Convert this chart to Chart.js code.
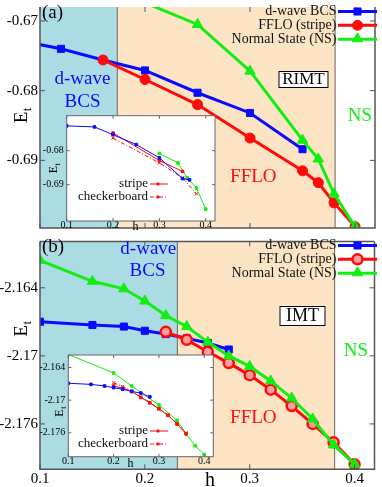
<!DOCTYPE html>
<html><head><meta charset="utf-8">
<script src="https://cdn.jsdelivr.net/npm/chart.js"></script>
<style>
html,body{margin:0;padding:0;background:#fff;}
#wrap{position:relative;width:382px;height:487px;overflow:hidden;background:#fff;}
canvas{position:absolute;display:block;}
</style></head><body>
<div id="wrap">
<canvas id="ca" width="382" height="235" style="left:0;top:0"></canvas>
<canvas id="cb" width="382" height="253" style="left:0;top:234px"></canvas>
<canvas id="ia" width="190" height="126" style="left:30px;top:110px"></canvas>
<canvas id="ib" width="190" height="125" style="left:30px;top:349px"></canvas>
</div>
<script>
// ---------------- data ----------------
const seriesNames = ['d-wave BCS', 'FFLO (stripe)', 'Normal State (NS)'];
const insetNames = ['stripe', 'checkerboard'];

const hTicks = [0.1, 0.2, 0.3, 0.4];
const hTickLabels = ['0.1', '0.2', '0.3', '0.4'];

// Panel (a) RIMT
const bcsA_h  = [0.08, 0.12, 0.16, 0.2, 0.25, 0.3, 0.35];
const bcsA_E  = [-0.6728, -0.6740, -0.6756, -0.6771, -0.6803, -0.6832, -0.6884];
const ffloA_h = [0.16, 0.2, 0.25, 0.3, 0.35, 0.365, 0.38, 0.4];
const ffloA_E = [-0.6756, -0.6784, -0.6820, -0.6868, -0.6915, -0.6932, -0.6961, -0.6995];
const nsA_h   = [0.2, 0.25, 0.3, 0.35, 0.365, 0.38, 0.4];
const nsA_E   = [-0.6674, -0.6705, -0.6772, -0.6871, -0.6898, -0.6948, -0.6995];
const yTicksA = [-0.69, -0.68, -0.67];
const yTickLabelsA = ['-0.69', '-0.68', '-0.67'];
const phaseA = [0.1736, 0.381];

// Panel (b) IMT
const bcsB_h  = [0.1, 0.15, 0.18, 0.2, 0.22, 0.24, 0.26, 0.28];
const bcsB_E  = [-2.16699, -2.16728, -2.16742, -2.16779, -2.16808, -2.16845, -2.16887, -2.16944];
const ffloB_h = [0.22, 0.24, 0.26, 0.28, 0.3, 0.32, 0.34, 0.36, 0.38, 0.4];
const ffloB_E = [-2.16788, -2.16859, -2.16964, -2.17064, -2.17170, -2.17298, -2.17443, -2.17600, -2.17762, -2.17956];
const nsB_h   = [0.1, 0.15, 0.18, 0.2, 0.22, 0.24, 0.26, 0.28, 0.3, 0.32, 0.34, 0.36, 0.38, 0.4];
const nsB_E   = [-2.16158, -2.16343, -2.16409, -2.16517, -2.16645, -2.16742, -2.16879, -2.17001, -2.17093, -2.17221, -2.17372, -2.17557, -2.17785, -2.17956];
const yTicksB = [-2.176, -2.17, -2.164];
const yTickLabelsB = ['-2.176', '-2.17', '-2.164'];
const phaseB = [0.231, 0.381];

// Inset (a)
const iA_bcs_h = [0.1, 0.16, 0.2, 0.25, 0.3, 0.35, 0.365];
const iA_bcs_E = [-0.6727, -0.6730, -0.6753, -0.6782, -0.6821, -0.6882, -0.6886];
const iA_str_h = [0.2, 0.3, 0.35];
const iA_str_E = [-0.6748, -0.6829, -0.6861];
const iA_chk_h = [0.2, 0.3, 0.35, 0.38];
const iA_chk_E = [-0.6763, -0.6836, -0.6880, -0.6927];
const iA_ns_h  = [0.3, 0.34, 0.36, 0.38, 0.4];
const iA_ns_E  = [-0.6808, -0.6836, -0.6880, -0.6910, -0.6972];
const iyTicksA = [-0.69, -0.68];
const iyTickLabelsA = ['-0.69', '-0.68'];

// Inset (b)
const iB_bcs_h = [0.1, 0.15, 0.18, 0.2, 0.22, 0.24, 0.26, 0.28];
const iB_bcs_E = [-2.1669, -2.1671, -2.1674, -2.1677, -2.1680, -2.1684, -2.1687, -2.1694];
const iB_str_h = [0.2, 0.22, 0.24, 0.26, 0.28, 0.3, 0.32, 0.34, 0.36];
const iB_str_E = [-2.1674, -2.1678, -2.1684, -2.1695, -2.1705, -2.1716, -2.1728, -2.1744, -2.1762];
const iB_chk_h = [0.2, 0.22, 0.24, 0.26, 0.28, 0.3, 0.32, 0.34, 0.36];
const iB_chk_E = [-2.1668, -2.1675, -2.1683, -2.1694, -2.1704, -2.1716, -2.1727, -2.1743, -2.1760];
const iB_ns_h  = [0.1, 0.2, 0.24, 0.3, 0.34, 0.36, 0.38, 0.4];
const iB_ns_E  = [-2.1616, -2.1650, -2.1674, -2.1709, -2.1737, -2.1762, -2.1784, -2.1800];
const iyTicksB = [-2.176, -2.17, -2.164];
const iyTickLabelsB = ['-2.176', '-2.17', '-2.164'];

// ---------------- styling ----------------
const SERIF = '"Liberation Serif","Times New Roman",Times,serif';
const BLUE = '#0a0aff', RED = '#ff0a0a', GREEN = '#11ee11';
const CYAN = '#acdce3', PEACH = '#fde4c5';
const FRAME = '#555';

function pts(h, e) { return h.map((v, i) => ({x: v, y: e[i]})); }
function lab(v, ticks, labels) {
  for (let i = 0; i < ticks.length; i++) if (Math.abs(ticks[i] - v) < 1e-9) return labels[i];
  return '';
}
function marker(ctx, style, x, y, r, fill, stroke, bw) {
  ctx.save(); ctx.beginPath();
  if (style === 'rect') { const s = r * Math.SQRT1_2; ctx.rect(x - s, y - s, 2 * s, 2 * s); }
  else if (style === 'circle') { ctx.arc(x, y, r, 0, Math.PI * 2); }
  else if (style === 'triangle') {
    let a = 0; ctx.moveTo(x + Math.sin(a) * r, y - Math.cos(a) * r);
    a += 2 * Math.PI / 3; ctx.lineTo(x + Math.sin(a) * r, y - Math.cos(a) * r);
    a += 2 * Math.PI / 3; ctx.lineTo(x + Math.sin(a) * r, y - Math.cos(a) * r);
    ctx.closePath();
  }
  ctx.fillStyle = fill; ctx.fill();
  if (bw) { ctx.lineWidth = bw; ctx.strokeStyle = stroke; ctx.stroke(); }
  ctx.restore();
}
function txt(ctx, s, x, y, size, color, align) {
  ctx.save(); ctx.font = size + 'px ' + SERIF; ctx.fillStyle = color || '#000';
  ctx.textAlign = align || 'center'; ctx.textBaseline = 'middle';
  ctx.fillText(s, x, y); ctx.restore();
}
function etTitle(ctx, bx, by, big, small) {
  ctx.save(); ctx.translate(bx, by); ctx.rotate(-Math.PI / 2);
  ctx.fillStyle = '#000'; ctx.textAlign = 'left'; ctx.textBaseline = 'alphabetic';
  ctx.font = big + 'px ' + SERIF; ctx.fillText('E', 0, 0);
  const w = ctx.measureText('E').width;
  ctx.font = small + 'px ' + SERIF; ctx.fillText('t', w + 0.5, small * 0.35);
  ctx.restore();
}

function mainDecor(cfg) {
  return {
    id: 'decor' + cfg.key,
    beforeDraw(chart) {
      const {ctx, chartArea: a} = chart; const x = chart.scales.x;
      const x1 = x.getPixelForValue(cfg.phase[0]), x2 = x.getPixelForValue(cfg.phase[1]);
      ctx.save();
      ctx.fillStyle = CYAN; ctx.fillRect(a.left, a.top, x1 - a.left, a.bottom - a.top);
      ctx.fillStyle = PEACH; ctx.fillRect(x1, a.top, x2 - x1, a.bottom - a.top);
      ctx.strokeStyle = '#666'; ctx.lineWidth = 1;
      ctx.beginPath(); ctx.moveTo(x1, a.top); ctx.lineTo(x1, a.bottom);
      ctx.moveTo(x2, a.top); ctx.lineTo(x2, a.bottom); ctx.stroke();
      ctx.restore();
    },
    afterDraw(chart) {
      const {ctx, chartArea: a} = chart; const x = chart.scales.x, y = chart.scales.y;
      ctx.save();
      ctx.strokeStyle = FRAME; ctx.lineWidth = 1.5; ctx.beginPath();
      if (cfg.top) { ctx.moveTo(a.left, a.top); ctx.lineTo(a.right, a.top); }
      ctx.moveTo(a.left, a.top); ctx.lineTo(a.left, a.bottom); ctx.lineTo(a.right, a.bottom); ctx.lineTo(a.right, a.top);
      ctx.stroke();
      ctx.lineWidth = 1; ctx.beginPath();
      for (const v of cfg.yTicks) { const py = y.getPixelForValue(v);
        ctx.moveTo(a.left, py); ctx.lineTo(a.left + 5, py); ctx.moveTo(a.right, py); ctx.lineTo(a.right - 5, py); }
      for (const v of hTicks) { const px = x.getPixelForValue(v);
        ctx.moveTo(px, a.bottom); ctx.lineTo(px, a.bottom - 5); ctx.moveTo(px, a.top); ctx.lineTo(px, a.top + 5); }
      ctx.stroke();
      ctx.restore();
      // annotations
      for (const t of cfg.texts) txt(ctx, t.s, t.x, t.y, t.size, t.color, t.align);
      // boxed label
      const b = cfg.box;
      ctx.save(); ctx.fillStyle = '#fff'; ctx.fillRect(b.x, b.y, b.w, b.h);
      ctx.strokeStyle = '#000'; ctx.lineWidth = 1; ctx.strokeRect(b.x + 0.5, b.y + 0.5, b.w - 1, b.h - 1); ctx.restore();
      txt(ctx, b.s, b.x + b.w / 2, b.y + b.h / 2 + 0.5, b.size, '#000');
      etTitle(ctx, cfg.et[0], cfg.et[1], 19, 13);
      if (cfg.hlab) txt(ctx, 'h', cfg.hlab[0], cfg.hlab[1], 20, '#000');
      // legend
      const rows = [11.5, 25.3, 39.3];
      const cols = [BLUE, RED, GREEN];
      for (let i = 0; i < 3; i++) {
        txt(ctx, seriesNames[i], 336.5, rows[i], 14, '#111', 'right');
        ctx.save(); ctx.strokeStyle = cols[i]; ctx.lineWidth = 3; ctx.beginPath();
        ctx.moveTo(338, rows[i]); ctx.lineTo(377, rows[i]); ctx.stroke(); ctx.restore();
      }
      marker(ctx, 'rect', 357.5, rows[0], 5, BLUE, BLUE, 1);
      marker(ctx, 'circle', 357.5, rows[1], 5, cfg.redFill, RED, cfg.redBw);
      marker(ctx, 'triangle', 357.5, rows[2] - 0.5, 6, GREEN, GREEN, 1);
    }
  };
}

function mainChart(id, cfg) {
  const ds = [
    {data: pts(cfg.ns[0], cfg.ns[1]), borderColor: GREEN, backgroundColor: GREEN, borderWidth: 3,
     pointStyle: 'triangle', pointRadius: 6, pointBackgroundColor: GREEN, pointBorderColor: GREEN, pointBorderWidth: 1},
    {data: pts(cfg.fflo[0], cfg.fflo[1]), borderColor: RED, backgroundColor: RED, borderWidth: 3,
     pointStyle: 'circle', pointRadius: 5, pointBackgroundColor: cfg.redFill, pointBorderColor: RED, pointBorderWidth: cfg.redBw},
    {data: pts(cfg.bcs[0], cfg.bcs[1]), borderColor: BLUE, backgroundColor: BLUE, borderWidth: 3,
     pointStyle: 'rect', pointRadius: 5, pointBackgroundColor: BLUE, pointBorderColor: BLUE, pointBorderWidth: 1}
  ];
  ds.forEach((d, i) => { d.label = seriesNames[2 - i]; d.tension = 0; d.fill = false; });
  return new Chart(document.getElementById(id), {
    type: 'line',
    data: {datasets: ds},
    options: {
      responsive: false, animation: false, events: [],
      layout: {padding: {left: 0, right: 2.5, top: 0, bottom: cfg.padBottom}},
      plugins: {legend: {display: false}, tooltip: {enabled: false}},
      scales: {
        x: {type: 'linear', min: 0.1, max: 0.419, display: cfg.showX,
            grid: {display: false, drawTicks: false}, border: {display: false},
            afterBuildTicks: s => { s.ticks = hTicks.map(v => ({value: v})); },
            ticks: {autoSkip: false, maxRotation: 0, padding: 1, color: '#000', font: {family: SERIF, size: 15},
                    callback: v => lab(v, hTicks, hTickLabels)},
            afterFit: s => { s.height = cfg.xHeight; s.paddingLeft = 0; s.paddingRight = 0; }},
        y: {type: 'linear', min: cfg.ymin, max: cfg.ymax,
            grid: {display: false, drawTicks: false}, border: {display: false},
            afterBuildTicks: s => { s.ticks = cfg.yTicks.map(v => ({value: v})); },
            ticks: {autoSkip: false, padding: 2, color: '#000', font: {family: SERIF, size: 15},
                    callback: v => lab(v, cfg.yTicks, cfg.yLabels)},
            afterFit: s => { s.width = 40; s.paddingTop = 0; s.paddingBottom = 0; }}
      }
    },
    plugins: [mainDecor(cfg)]
  });
}

function insetDecor(cfg) {
  return {
    id: 'idecor' + cfg.key,
    beforeDraw(chart) {
      const {ctx, chartArea: a} = chart;
      ctx.save(); ctx.fillStyle = '#fff'; ctx.fillRect(a.left, a.top, a.right - a.left, a.bottom - a.top); ctx.restore();
    },
    afterDraw(chart) {
      const {ctx, chartArea: a} = chart; const x = chart.scales.x, y = chart.scales.y;
      ctx.save();
      ctx.strokeStyle = '#666'; ctx.lineWidth = 1;
      ctx.strokeRect(a.left, a.top, a.right - a.left, a.bottom - a.top);
      ctx.beginPath();
      for (const v of cfg.yTicks) { const py = y.getPixelForValue(v);
        ctx.moveTo(a.left, py); ctx.lineTo(a.left + 3, py); ctx.moveTo(a.right, py); ctx.lineTo(a.right - 3, py); }
      for (const v of hTicks) { const px = x.getPixelForValue(v);
        ctx.moveTo(px, a.bottom); ctx.lineTo(px, a.bottom - 3); ctx.moveTo(px, a.top); ctx.lineTo(px, a.top + 3); }
      ctx.stroke(); ctx.restore();
      etTitle(ctx, cfg.et[0], cfg.et[1], 12, 8);
      txt(ctx, 'h', cfg.hlab[0], cfg.hlab[1], 12, '#000');
      const L = cfg.leg;
      for (let i = 0; i < 2; i++) {
        const yy = L.rows[i];
        txt(ctx, insetNames[i], L.x, yy, 13, '#111', 'right');
        ctx.save(); ctx.strokeStyle = RED; ctx.lineWidth = 1;
        if (i === 1) ctx.setLineDash([4, 2, 1, 2]);
        ctx.beginPath(); ctx.moveTo(L.x + 2, yy); ctx.lineTo(L.x + 20, yy); ctx.stroke(); ctx.restore();
        marker(ctx, 'rect', L.x + 10, yy, 2, RED, RED, 0);
      }
    }
  };
}

function insetChart(id, cfg) {
  const thin = (d, c, style, r) => Object.assign(d, {borderColor: c, backgroundColor: c, borderWidth: 1, tension: 0,
      pointStyle: style, pointRadius: r, pointBackgroundColor: c, pointBorderColor: c, pointBorderWidth: 1});
  const ds = [
    thin({label: 'd-wave BCS', data: pts(cfg.bcs[0], cfg.bcs[1])}, BLUE, 'rect', 1.8),
    thin({label: 'stripe', data: pts(cfg.str[0], cfg.str[1])}, RED, 'rect', 1.8),
    thin({label: 'checkerboard', data: pts(cfg.chk[0], cfg.chk[1]), borderDash: [4, 2, 1, 2]}, RED, 'crossRot', 2.2),
    thin({label: 'Normal State (NS)', data: pts(cfg.ns[0], cfg.ns[1])}, GREEN, 'rect', 1.8)
  ];
  return new Chart(document.getElementById(id), {
    type: 'line',
    data: {datasets: ds},
    options: {
      responsive: false, animation: false, events: [],
      layout: {padding: {left: 0, right: cfg.padRight, top: cfg.padTop, bottom: 0}},
      plugins: {legend: {display: false}, tooltip: {enabled: false}},
      scales: {
        x: {type: 'linear', min: 0.1, max: 0.42,
            grid: {display: false, drawTicks: false}, border: {display: false},
            afterBuildTicks: s => { s.ticks = hTicks.map(v => ({value: v})); },
            ticks: {autoSkip: false, maxRotation: 0, padding: cfg.xPad, color: '#000', font: {family: SERIF, size: 10, lineHeight: 1},
                    callback: v => lab(v, hTicks, hTickLabels)},
            afterFit: s => { s.height = cfg.xHeight; s.paddingLeft = 0; s.paddingRight = 0; }},
        y: {type: 'linear', min: cfg.ymin, max: cfg.ymax,
            grid: {display: false, drawTicks: false}, border: {display: false},
            afterBuildTicks: s => { s.ticks = cfg.yTicks.map(v => ({value: v})); },
            ticks: {autoSkip: false, padding: 3, color: '#000', font: {family: SERIF, size: 10},
                    callback: v => lab(v, cfg.yTicks, cfg.yLabels)},
            afterFit: s => { s.width = cfg.yWidth; s.paddingTop = 0; s.paddingBottom = 0; }}
      }
    },
    plugins: [insetDecor(cfg)]
  });
}

mainChart('ca', {
  key: 'A', bcs: [bcsA_h, bcsA_E], fflo: [ffloA_h, ffloA_E], ns: [nsA_h, nsA_E],
  ymin: -0.6997, ymax: -0.668, yTicks: yTicksA, yLabels: yTickLabelsA, phase: phaseA,
  showX: false, xHeight: 0, padBottom: 0.7, top: false, redFill: RED, redBw: 1,
  texts: [
    {s: '(a)', x: 42, y: 13, size: 19, color: '#000', align: 'left'},
    {s: 'd-wave', x: 82.5, y: 79.5, size: 19, color: BLUE},
    {s: 'BCS', x: 82.5, y: 101.7, size: 19, color: BLUE},
    {s: 'FFLO', x: 253.3, y: 176.7, size: 19, color: RED},
    {s: 'NS', x: 360, y: 116, size: 19, color: GREEN}
  ],
  box: {s: 'RIMT', x: 278.5, y: 71, w: 50, h: 17, size: 17},
  et: [26.7, 123.3]
});

mainChart('cb', {
  key: 'B', bcs: [bcsB_h, bcsB_E], fflo: [ffloB_h, ffloB_E], ns: [nsB_h, nsB_E],
  ymin: -2.18, ymax: -2.15992, yTicks: yTicksB, yLabels: yTickLabelsB, phase: phaseB,
  showX: true, xHeight: 17.7, padBottom: 0, top: true, redFill: '#ffa0a0', redBw: 2.5,
  texts: [
    {s: '(b)', x: 42, y: 13, size: 19, color: '#000', align: 'left'},
    {s: 'd-wave', x: 148.3, y: 15, size: 19, color: BLUE},
    {s: 'BCS', x: 147.5, y: 37.5, size: 19, color: BLUE},
    {s: 'FFLO', x: 253.3, y: 184.3, size: 19, color: RED},
    {s: 'NS', x: 356, y: 117.5, size: 19, color: GREEN}
  ],
  box: {s: 'IMT', x: 279.5, y: 72, w: 46, h: 20, size: 18},
  et: [26.7, 102.7], hlab: [210, 246.5]
});

insetChart('ia', {
  key: 'a', bcs: [iA_bcs_h, iA_bcs_E], str: [iA_str_h, iA_str_E], chk: [iA_chk_h, iA_chk_E], ns: [iA_ns_h, iA_ns_E],
  ymin: -0.7007, ymax: -0.6697, yTicks: iyTicksA, yLabels: iyTickLabelsA,
  yWidth: 36.7, padTop: 5.7, padRight: 2.7, xHeight: 15, xPad: -1,
  et: [27.3, 63.3], hlab: [105.5, 117], leg: {x: 118, rows: [74, 87]}
});

insetChart('ib', {
  key: 'b', bcs: [iB_bcs_h, iB_bcs_E], str: [iB_str_h, iB_str_E], chk: [iB_chk_h, iB_chk_E], ns: [iB_ns_h, iB_ns_E],
  ymin: -2.1804, ymax: -2.1617, yTicks: iyTicksB, yLabels: iyTickLabelsB,
  yWidth: 38.3, padTop: 6, padRight: 6.7, xHeight: 17.3, xPad: 0,
  et: [33.3, 67.7], hlab: [100.5, 114.5], leg: {x: 118, rows: [82, 95]}
});
</script>
</body></html>
